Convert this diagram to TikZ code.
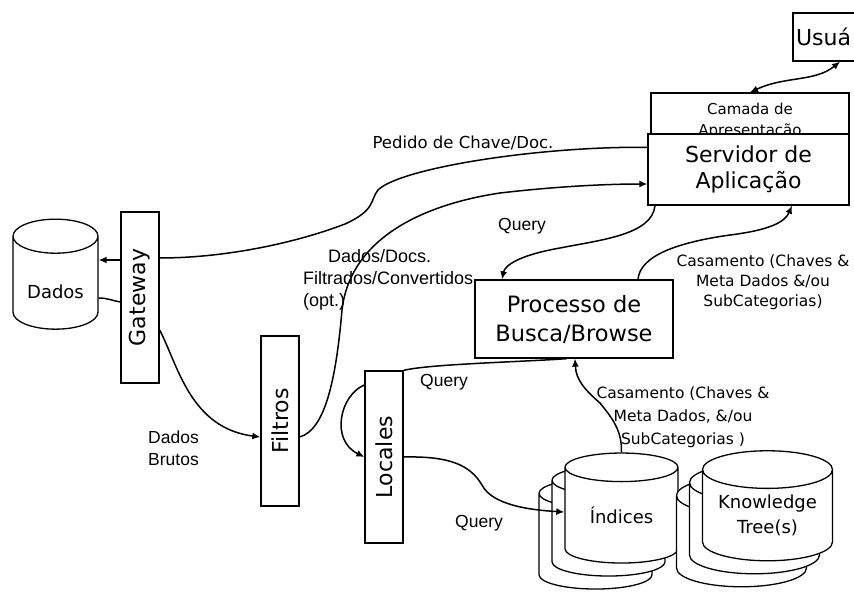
\documentclass[tikz,border=0pt]{standalone}
\usepackage{fontspec}
\setmainfont{DejaVu Sans}
\newfontfamily\arialfont{Liberation Sans}
\usepackage{tikz}
\usetikzlibrary{shapes.geometric,arrows.meta,positioning}
\newcommand{\boxfont}{\fontsize{22}{26}\selectfont}
\newcommand{\procfont}{\fontsize{22.5}{29}\selectfont}
\newcommand{\camfont}{\fontsize{15}{21}\selectfont}
\newcommand{\dbfont}{\fontsize{18}{25}\selectfont}
\newcommand{\tahfont}{\fontsize{15.5}{20}\selectfont}
\newcommand{\qfont}{\arialfont\fontsize{17.5}{21.5}\selectfont}

\begin{document}
\begin{tikzpicture}[x=1pt, y=-1pt,
    box/.style={rectangle, draw, line width=1.3pt, fill=white, inner sep=2pt,
                align=center, font=\boxfont},
    vbox/.style={rectangle, draw, line width=1.3pt, fill=white, minimum width=38pt},
    vtext/.style={rotate=90, font=\boxfont},
    db/.style={cylinder, shape border rotate=90, draw, line width=1.3pt, fill=white,
               align=center, font=\dbfont, inner sep=0pt},
    lbl/.style={inner sep=0pt, font=\qfont},
    tlbl/.style={inner sep=0pt, font=\tahfont, align=center},
    ln/.style={line width=1.5pt},
    arr/.style={-{Latex[length=8pt,width=7pt]}, line width=1.5pt},
    dbl/.style={{Latex[length=8pt,width=7pt]}-{Latex[length=8pt,width=7pt]}, line width=1.5pt}
]
    \useasboundingbox (0,0) rectangle (854,597);
    \clip (0,0) rectangle (854,597);

    % usuario and server stack
    \node[box, minimum width=140pt, minimum height=48pt, text width=134pt,
          align=left, inner sep=3pt, font=\fontsize{22}{26}\selectfont] (usr) at (863,37) {Usuá};
    \node[box, font=\camfont, minimum width=198pt, minimum height=55pt] (cam) at (750,120.5)
        {Camada de\\Apresentação};
    \node[box, minimum width=201pt, minimum height=71pt] (srv) at (748.5,169.5)
        {Servidor de\\Aplicação};
    \node[box, font=\procfont, minimum width=198pt, minimum height=78pt] (proc) at (574,319)
        {Processo de\\Busca/Browse};

    % vertical bars
    \node[vbox, minimum height=171pt, label={[vtext]center:Gateway}] (gw) at (140,297.5) {};
    \node[vbox, minimum height=170pt, label={[vtext]center:Filtros}] (filt) at (280,421) {};
    \node[vbox, minimum height=172pt, label={[vtext]center:Locales}] (loc) at (384,457) {};

    % data stores
    \node[db, minimum width=85pt, minimum height=110pt, aspect=0.6,
          label={[yshift=-9pt, font=\dbfont]center:Dados}] (dados) at (55.5,283) {\phantom{Dados}};
    \node[db, minimum width=113pt, minimum height=110pt, aspect=0.45] (indA) at (595.5,541.5) {\phantom{Índices}};
    \node[db, minimum width=113pt, minimum height=110pt, aspect=0.45] (indB) at (608.5,528.5) {\phantom{Índices}};
    \node[db, minimum width=113pt, minimum height=110pt, aspect=0.45] (ind) at (621.5,515.5) {Índices};
    \node[db, minimum width=130pt, minimum height=110pt, aspect=0.38] (ktA) at (741.5,541.5) {\phantom{Knowledge}};
    \node[db, minimum width=130pt, minimum height=110pt, aspect=0.38] (ktB) at (754.5,528.5) {\phantom{Knowledge}};
    \node[db, minimum width=130pt, minimum height=110pt, aspect=0.38] (kt) at (767.5,515.5)
        {Knowledge\\Tree(s)};

    % labels
    \node[tlbl, font=\fontsize{16.5}{20}\selectfont] (pedido) at (463,143) {Pedido de Chave/Doc.};
    \node[lbl] (q1) at (522,226) {Query};
    \node[lbl, anchor=west, align=left, font=\arialfont\fontsize{18}{22}\selectfont] (filtlbl) at (303,280)
        {\hspace*{25pt}Dados/Docs.\\Filtrados/Convertidos\\(opt.)};
    \node[lbl, anchor=west, align=left] (brutos) at (148,448) {Dados\\Brutos};
    \node[tlbl] (cas1) at (763,282) {Casamento (Chaves \&\\Meta Dados \&/ou\\SubCategorias)};
    \node[lbl] (q2) at (444,382) {Query};
    \node[tlbl, font=\fontsize{15.5}{23}\selectfont] (cas2) at (683,417)
        {Casamento (Chaves \&\\Meta Dados, \&/ou\\SubCategorias )};
    \node[lbl] (q3) at (479,523) {Query};

    % connectors
    \draw[dbl] (cam.north) .. controls (785,76) and (815,82) .. (usr.south -| 840,0);
    \draw[ln] ([yshift=-14pt]srv.north west) .. controls (540,146) and (400,168) .. (378,190)
        .. controls (370,200) and (376,210) .. (345,224)
        .. controls (290,245) and (220,258) .. (gw.east |- 0,258);
    \draw[arr] (gw.west |- 0,260) -- (dados.east |- 0,260);
    \draw[ln] (dados.east |- 0,298) to[out=0, in=170] (gw.west |- 0,302);
    \draw[arr] (gw.east |- 0,330) .. controls (178,365) and (190,428) .. (filt.west |- 0,437);
    \draw[arr] (filt.east |- 0,437) .. controls (325,430) and (336,380) .. (342,310)
        .. controls (350,240) and (420,205) .. (500,193)
        .. controls (560,186) and (610,184) .. (srv.west |- 0,184);
    \draw[arr] (srv.south -| 655,0) .. controls (652,235) and (600,240) .. (560,248)
        .. controls (520,255) and (505,265) .. (proc.north -| 502,0);
    \draw[arr] (proc.north -| 638,0) .. controls (640,255) and (680,242) .. (730,235)
        .. controls (770,230) and (785,222) .. (srv.south -| 792,0);
    \draw[arr] (ind.north) .. controls (622,430) and (612,418) .. (600,403)
        .. controls (585,390) and (576,380) .. (proc.south -| 575,0);
    \draw[ln] (loc.north east) .. controls (430,364) and (520,362) .. (proc.south -| 567,0);
    \draw[arr] (loc.west |- 0,385) .. controls (340,395) and (330,440) .. (loc.west |- 0,457);
    \draw[arr] (loc.east |- 0,457) .. controls (450,456) and (470,465) .. (482,485)
        .. controls (492,505) and (530,510) .. (ind.west |- 0,512);
\end{tikzpicture}
\end{document}
